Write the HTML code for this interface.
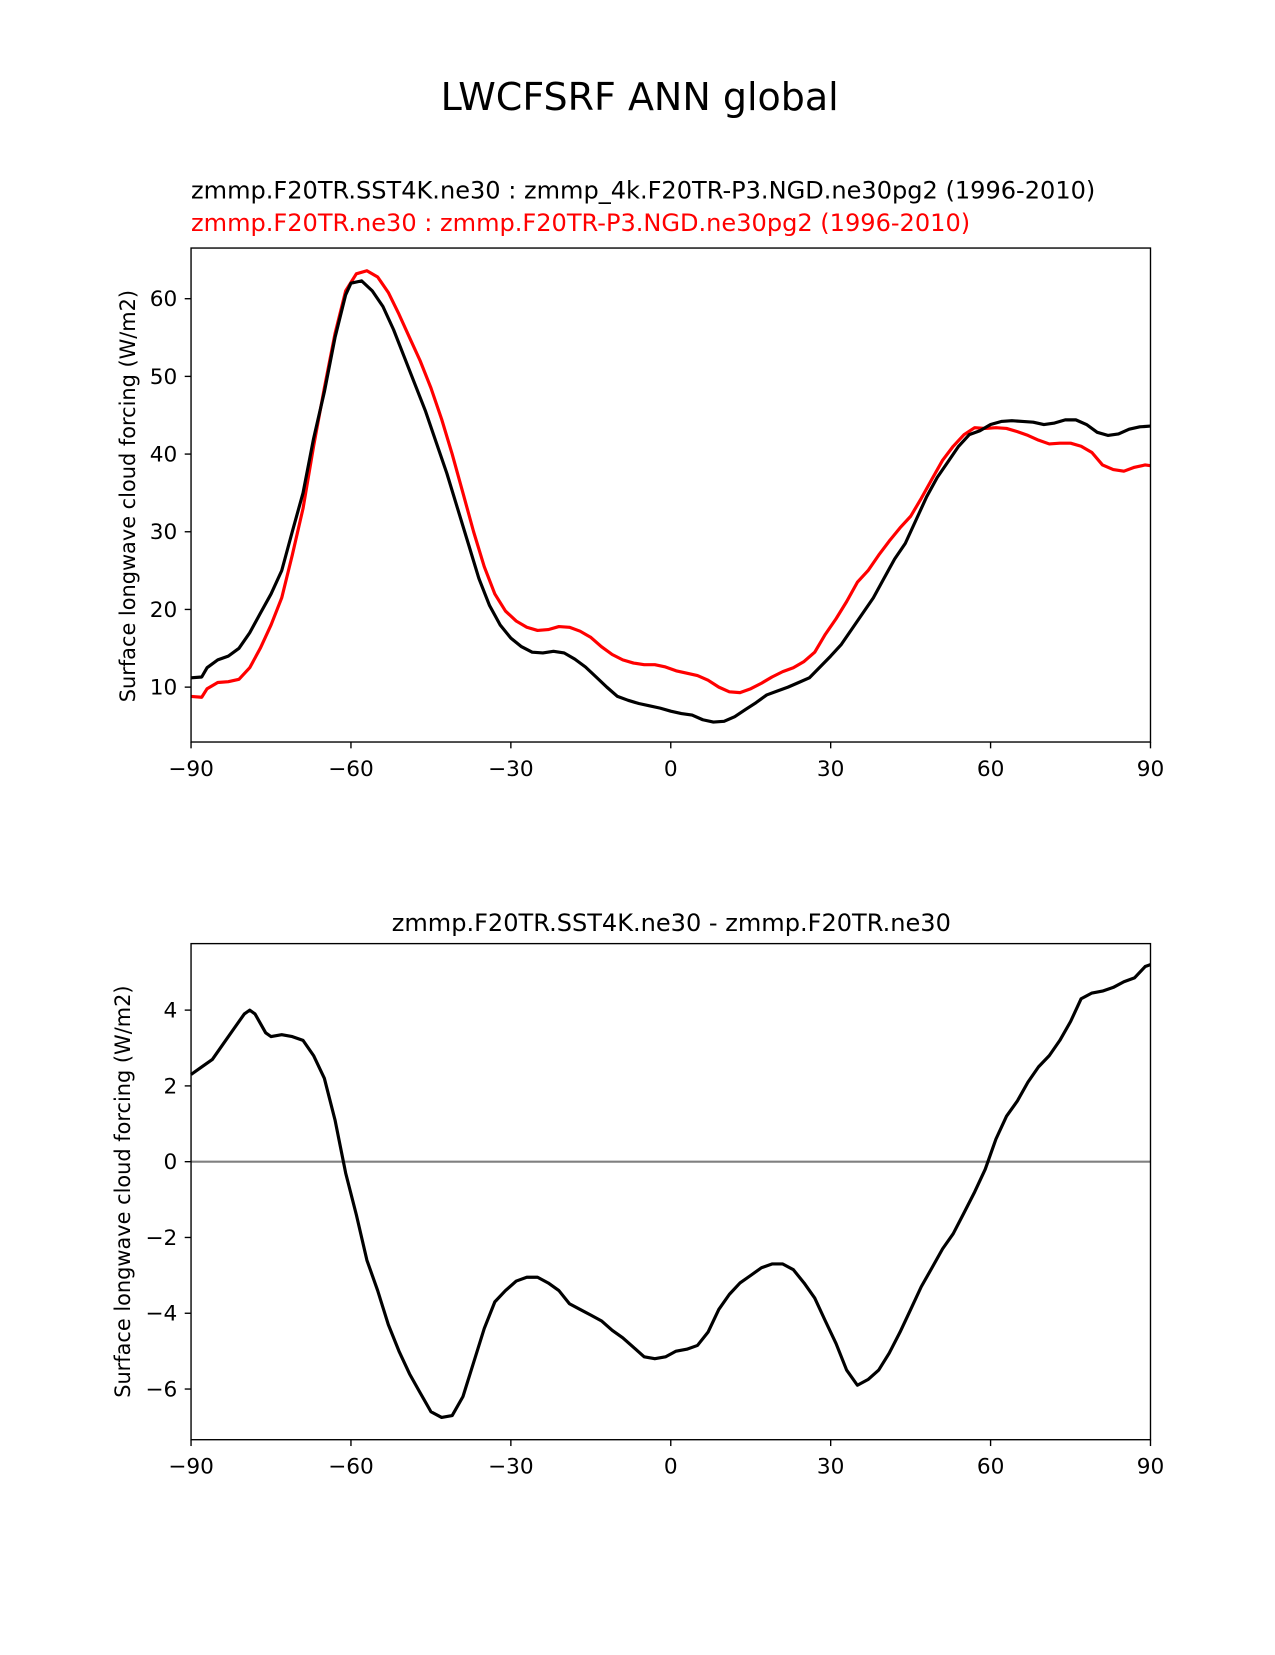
<!DOCTYPE html>
<html><head><meta charset="utf-8"><style>
body{margin:0;background:#fff;}
text{font-family:"DejaVu Sans","Liberation Sans",sans-serif;}
</style></head><body>
<svg id="c" width="1275" height="1650" xmlns="http://www.w3.org/2000/svg">
<rect width="1275" height="1650" fill="#fff"/>
<g transform="scale(1.0555)">
<text x="606" y="104" font-size="36" text-anchor="middle">LWCFSRF ANN global</text>
<text x="181" y="188" font-size="22.8">zmmp.F20TR.SST4K.ne30 : zmmp_4k.F20TR-P3.NGD.ne30pg2 (1996-2010)</text>
<text x="181" y="219" font-size="22.8" fill="#ff0000">zmmp.F20TR.ne30 : zmmp.F20TR-P3.NGD.ne30pg2 (1996-2010)</text>
<text x="636" y="882" font-size="22.8" text-anchor="middle">zmmp.F20TR.SST4K.ne30 - zmmp.F20TR.ne30</text>
<g id="p1"></g>
<g id="p2"></g>
</g>
</svg>
<script>
const latA=[-90,-88,-87,-85,-83,-81,-79,-77,-75,-73,-71,-69,-67,-65,-63,-61,-60,-58,-56,-54,-52,-50,-48,-46,-44,-42,-40,-38,-36,-34,-32,-30,-28,-26,-24,-22,-20,-18,-16,-14,-12,-10,-8,-6,-4,-2,0,2,4,6,8,10,12,14,16,18,20,22,24,26,28,30,32,34,36,38,40,42,44,46,48,50,52,54,56,58,60,62,64,66,68,70,72,74,76,78,80,82,84,86,88,90];
const testVals=[11.2,11.3,12.5,13.5,14,15,17,19.5,22,25,30,35,42,48,55,60.5,62,62.3,61,59,56,52.5,49,45.5,41.5,37.5,33,28.5,24,20.5,18,16.3,15.2,14.5,14.4,14.6,14.4,13.6,12.6,11.3,10,8.8,8.3,7.9,7.6,7.3,6.9,6.6,6.4,5.8,5.5,5.6,6.2,7.1,8,9,9.5,10,10.6,11.2,12.6,14,15.5,17.5,19.5,21.5,24,26.5,28.5,31.5,34.5,37,39,41,42.5,43,43.8,44.2,44.3,44.2,44.1,43.8,44,44.4,44.4,43.8,42.8,42.4,42.6,43.2,43.5,43.6];
const latB=[-90,-88,-87,-85,-83,-81,-79,-77,-75,-73,-71,-69,-67,-65,-63,-61,-59,-57,-55,-53,-51,-49,-47,-45,-43,-41,-39,-37,-35,-33,-31,-29,-27,-25,-23,-21,-19,-17,-15,-13,-11,-9,-7,-5,-3,-1,1,3,5,7,9,11,13,15,17,19,21,23,25,27,29,31,33,35,37,39,41,43,45,47,49,51,53,55,57,59,61,63,65,67,69,71,73,75,77,79,81,83,85,87,89,90];
const refVals=[8.8,8.7,9.8,10.6,10.7,11,12.5,15,18,21.5,27,33,41,48.5,55.5,61,63.2,63.6,62.8,60.8,58,55,52,48.5,44.5,40,35,30,25.5,22,19.8,18.5,17.7,17.3,17.4,17.8,17.7,17.2,16.4,15.2,14.2,13.5,13.1,12.9,12.9,12.6,12.1,11.8,11.5,10.9,10,9.4,9.3,9.8,10.5,11.3,12,12.5,13.3,14.5,16.8,18.8,21,23.5,25,27,28.8,30.5,32,34.3,36.8,39.2,41,42.5,43.4,43.3,43.4,43.3,42.9,42.4,41.8,41.3,41.4,41.4,41,40.2,38.6,38,37.8,38.3,38.6,38.5];
const latD=[-90,-88,-86,-84,-82,-80,-79,-78,-76,-75,-73,-71,-69,-67,-65,-63,-61,-59,-57,-55,-53,-51,-49,-47,-45,-43,-41,-39,-37,-35,-33,-31,-29,-27,-25,-23,-21,-19,-17,-15,-13,-11,-9,-7,-5,-3,-1,1,3,5,7,9,11,13,15,17,19,21,23,25,27,29,31,33,35,37,39,41,43,45,47,49,51,53,55,57,59,61,63,65,67,69,71,73,75,77,79,81,83,85,87,89,90];
const diffVals=[2.3,2.5,2.7,3.1,3.5,3.9,4,3.9,3.4,3.3,3.35,3.3,3.2,2.8,2.2,1.1,-0.3,-1.4,-2.6,-3.4,-4.3,-5,-5.6,-6.1,-6.6,-6.75,-6.7,-6.2,-5.3,-4.4,-3.7,-3.4,-3.15,-3.05,-3.05,-3.2,-3.4,-3.75,-3.9,-4.05,-4.2,-4.45,-4.65,-4.9,-5.15,-5.2,-5.15,-5.0,-4.95,-4.85,-4.5,-3.9,-3.5,-3.2,-3.0,-2.8,-2.7,-2.7,-2.85,-3.2,-3.6,-4.2,-4.8,-5.5,-5.9,-5.75,-5.5,-5.05,-4.5,-3.9,-3.3,-2.8,-2.3,-1.9,-1.35,-0.8,-0.2,0.6,1.2,1.6,2.1,2.5,2.8,3.2,3.7,4.3,4.45,4.5,4.6,4.75,4.85,5.15,5.2];
const xTicks=[-90,-60,-30,0,30,60,90];
const xTickLabels=["\u221290","\u221260","\u221230","0","30","60","90"];
const yTicks1=[10,20,30,40,50,60];
const yTicks2=[-6,-4,-2,0,2,4];
const yTickLabels2=["\u22126","\u22124","\u22122","0","2","4"];
const NS="http://www.w3.org/2000/svg";
function mk(parent,tag,attrs,txt){const e=document.createElementNS(NS,tag);for(const k in attrs)e.setAttribute(k,attrs[k]);if(txt!==undefined)e.textContent=txt;parent.appendChild(e);return e;}
const X0=181,X1=1090;
const xs=v=>X0+(v+90)/180*(X1-X0);
function panel(g,top,bot,ys,yT,yL,series,zero){
  for(const s of series){
    const d=s.x.map((v,i)=>(i?'L':'M')+xs(v).toFixed(1)+','+ys(s.y[i]).toFixed(1)).join('');
    const p=mk(g,'path',{d:d,fill:'none',stroke:s.c,'stroke-width':3,'stroke-linejoin':'round'});
    
    
  }
  if(zero){const z=mk(g,'line',{x1:X0,x2:X1,y1:ys(0),y2:ys(0),stroke:'#808080','stroke-width':2});
    
    
    g.insertBefore(z,g.firstChild);}
  const r=mk(g,'rect',{x:X0,y:top,width:X1-X0,height:bot-top,fill:'none',stroke:'#000','stroke-width':1.3});
  
  
  xTicks.forEach((t,i)=>{mk(g,'line',{x1:xs(t),x2:xs(t),y1:bot,y2:bot+6,stroke:'#000','stroke-width':1.3});
    const l=mk(g,'text',{x:xs(t),y:bot+32,'font-size':20.5,'text-anchor':'middle'},xTickLabels[i]);
    
    });
  yT.forEach((t,i)=>{mk(g,'line',{x1:X0-6,x2:X0,y1:ys(t),y2:ys(t),stroke:'#000','stroke-width':1.3});
    const l=mk(g,'text',{x:X0-13,y:ys(t)+7,'font-size':20.5,'text-anchor':'end'},yL[i]);
    
    });
}
const g1=document.getElementById('p1');
const ys1=v=>651-(v-10)*7.36;
panel(g1,235,703,ys1,yTicks1,yTicks1.map(String),[{x:latB,y:refVals,c:'#ff0000',n:'ref-line'},{x:latA,y:testVals,c:'#000',n:'test-line'}],false);
const t1=mk(g1,'text',{x:0,y:0,'font-size':19.8,'text-anchor':'middle',transform:'translate(128,470) rotate(-90)'},'Surface longwave cloud forcing (W/m2)');


const g2=document.getElementById('p2');
const ys2=v=>1100.6-v*35.9;
panel(g2,894,1364,ys2,yTicks2,yTickLabels2,[{x:latD,y:diffVals,c:'#000',n:'diff-line'}],true);
const t2=mk(g2,'text',{x:0,y:0,'font-size':19.8,'text-anchor':'middle',transform:'translate(123,1129) rotate(-90)'},'Surface longwave cloud forcing (W/m2)');


</script>
</body></html>
